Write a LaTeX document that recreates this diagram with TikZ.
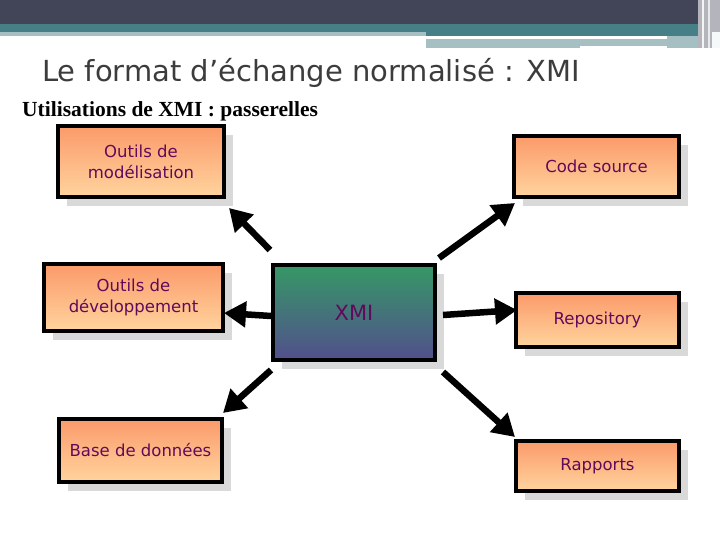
\documentclass[tikz,border=0pt]{standalone}
\usepackage{fontspec}
\setmainfont{Liberation Serif}
\newfontfamily\titlefont{DejaVu Sans}
\newfontfamily\boxfont{DejaVu Sans}
\usetikzlibrary{arrows.meta,shadows}
\definecolor{hdark}{HTML}{424457}
\definecolor{hteal}{HTML}{467F86}
\definecolor{hlight}{HTML}{A6BFC2}
\definecolor{hgray}{HTML}{B4B4BC}
\definecolor{orTop}{HTML}{FB9A6A}
\definecolor{orBot}{HTML}{FFD49E}
\definecolor{xTop}{HTML}{369866}
\definecolor{xBot}{HTML}{524F8C}
\definecolor{txt}{HTML}{600A5C}
\definecolor{shad}{HTML}{D9D9D9}
\definecolor{ttl}{HTML}{3C3C3C}
\tikzset{
  boxbase/.style={draw=black,line width=4.5pt,inner sep=0pt,align=center,
    text=txt,font=\boxfont\fontsize{16.5}{21}\selectfont,
    drop shadow={shadow xshift=9pt,shadow yshift=-9pt,fill=shad,opacity=1}},
  obox/.style={boxbase,top color=orTop,bottom color=orBot},
  xbox/.style={boxbase,top color=xTop,bottom color=xBot,font=\boxfont\fontsize{21}{25}\selectfont},
  arr/.style={line width=6.5pt,-{Triangle[length=22pt,width=25pt]}}
}
\begin{document}
\begin{tikzpicture}[x=1pt,y=-1pt]
\useasboundingbox (0,0) rectangle (720,540);
% header
\fill[hdark] (0,0) rectangle (720,24);
\fill[hteal] (0,24) rectangle (720,32);
\fill[hlight] (0,32) rectangle (426,36);
\fill[hteal] (426,32) rectangle (720,36);
\fill[hlight] (426,39) rectangle (707,46);
\fill[hlight] (426,46) rectangle (580,48);
\fill[hlight] (667,36) rectangle (707,48);
\fill[hgray] (698,0) rectangle (720,48);
\fill[white!85!hgray] (702,0) rectangle (704,48);
\fill[white!70!hgray] (708,0) rectangle (710,48);
\fill[white!90!hlight] (712,32) rectangle (720,48);
% titles
\node[anchor=base west,text=ttl,font=\titlefont\fontsize{29}{33}\selectfont,inner sep=0pt] (title) at (42,82) {Le format d’échange normalisé : XMI};
\node[anchor=base west,font=\bfseries\fontsize{21.5}{25}\selectfont,inner sep=0pt] (sub) at (22,117) {Utilisations de XMI : passerelles};
% boxes
\node[obox,minimum width=166pt,minimum height=71pt] (mod) at (141,161.5) {Outils de\\modélisation};
\node[obox,minimum width=165pt,minimum height=61pt] (code) at (596.5,166.5) {Code source};
\node[obox,minimum width=179pt,minimum height=67pt] (dev) at (133.5,297.5) {Outils de\\développement};
\node[xbox,minimum width=162pt,minimum height=95pt] (xmi) at (354,312.5) {XMI};
\node[obox,minimum width=163pt,minimum height=54pt] (repo) at (597.5,320) {Repository};
\node[obox,minimum width=163pt,minimum height=63pt] (base) at (140.5,450.5) {Base de données};
\node[obox,minimum width=163pt,minimum height=50pt] (rap) at (597.5,466) {Rapports};
% arrow end points
\coordinate (s1) at (270,250); \coordinate (e1) at (229,208);
\coordinate (s2) at (271,316); \coordinate (e2) at (224,313);
\coordinate (s3) at (271,370); \coordinate (e3) at (223,413);
\coordinate (s4) at (439,258); \coordinate (e4) at (515,203);
\coordinate (s5) at (443,315); \coordinate (e5) at (517,310);
\coordinate (s6) at (443,372); \coordinate (e6) at (515,437);
\draw[arr] (s1) -- (e1);
\draw[arr] (s2) -- (e2);
\draw[arr] (s3) -- (e3);
\draw[arr] (s4) -- (e4);
\draw[arr] (s5) -- (e5);
\draw[arr] (s6) -- (e6);
\end{tikzpicture}
\end{document}
